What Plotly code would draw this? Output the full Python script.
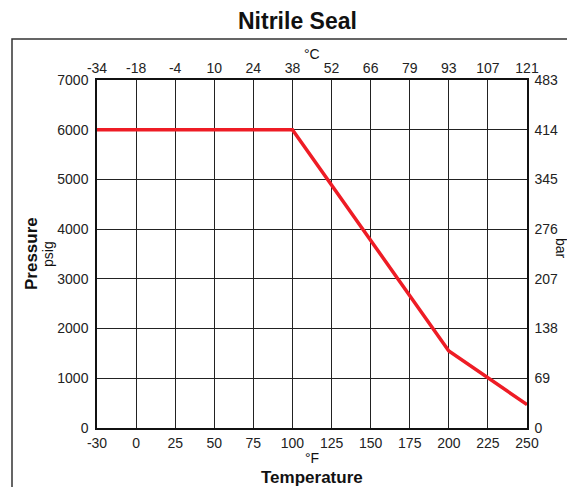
import plotly.graph_objects as go

# Data
F_TICKS = ["-30", "0", "25", "50", "75", "100", "125", "150", "175", "200", "225", "250"]
C_TICKS = ["-34", "-18", "-4", "10", "24", "38", "52", "66", "79", "93", "107", "121"]
PSI_TICKS = [0, 1000, 2000, 3000, 4000, 5000, 6000, 7000]
BAR_TICKS = ["0", "69", "138", "207", "276", "345", "414", "483"]

curve_temp_f = ["-30", "100", "200", "250"]
curve_psi = [6000, 6000, 1550, 470]

FONT = "Liberation Sans, Arial, sans-serif"
OFF = 8  # default page body margin
W, H = 575 - OFF, 487 - OFF
# plot area in page pixels: x 97..527, y 80..428
L, R, T, B = 97 - OFF, 575 - 527, 80 - OFF, 487 - 428
PW, PH = W - L - R, H - T - B


def px(x):
    return (x - OFF - L) / PW


def py(y):
    return (H - B - (y - OFF)) / PH


fig = go.Figure()
fig.add_trace(go.Scatter(
    x=curve_temp_f, y=curve_psi, mode="lines",
    line=dict(color="#ee1c25", width=3.5),
    showlegend=False, hoverinfo="skip",
))
fig.add_trace(go.Scatter(
    x=C_TICKS, y=[None] * len(C_TICKS), xaxis="x2", yaxis="y2",
    mode="lines", showlegend=False, hoverinfo="skip",
))

tickfont = dict(family=FONT, size=14, color="#222")
line_common = dict(showline=True, linecolor="#111", linewidth=1.5,
                   zeroline=False, ticks="", tickfont=tickfont)

fig.update_layout(
    width=W, height=H,
    margin=dict(l=L, r=R, t=T, b=B),
    paper_bgcolor="white", plot_bgcolor="white",
    xaxis=dict(type="category", categoryorder="array", categoryarray=F_TICKS,
               range=[0, len(F_TICKS) - 1], showgrid=True, gridcolor="#222",
               gridwidth=1, ticklabelstandoff=1, **line_common),
    xaxis2=dict(type="category", categoryorder="array", categoryarray=C_TICKS,
                range=[0, len(C_TICKS) - 1], overlaying="x", side="top",
                anchor="y", showgrid=False, ticklabelstandoff=0, **line_common),
    yaxis=dict(range=[0, 7000], tickvals=PSI_TICKS,
               ticktext=[str(v) for v in PSI_TICKS], showgrid=True,
               gridcolor="#222", gridwidth=1, ticklabelstandoff=4, **line_common),
    yaxis2=dict(range=[0, 7000], tickvals=PSI_TICKS, ticktext=BAR_TICKS,
                overlaying="y", side="right", anchor="x", showgrid=False,
                ticklabelstandoff=3, **line_common),
    shapes=[dict(type="rect", xref="paper", yref="paper",
                 x0=px(12), x1=px(600), y0=py(39), y1=py(520),
                 line=dict(color="#333", width=1.5), fillcolor="rgba(0,0,0,0)",
                 layer="below")],
)

ann = [
    dict(text="<b>Nitrile Seal</b>", x=297, y=21, size=23),
    dict(text="°C", x=312, y=54, size=14),
    dict(text="°F", x=312, y=458, size=14),
    dict(text="<b>Temperature</b>", x=312, y=477, size=17),
    dict(text="<b>Pressure</b>", x=31, y=254, size=17, angle=-90),
    dict(text="psig", x=48, y=254, size=14, angle=-90),
    dict(text="bar", x=561, y=248, size=14, angle=90),
]
for a in ann:
    fig.add_annotation(text=a["text"], x=px(a["x"]), y=py(a["y"]),
                       xref="paper", yref="paper",
                       showarrow=False, xanchor="center", yanchor="middle",
                       textangle=a.get("angle", 0),
                       font=dict(family=FONT, size=a["size"], color="#111"))

fig.write_html("out.html")
